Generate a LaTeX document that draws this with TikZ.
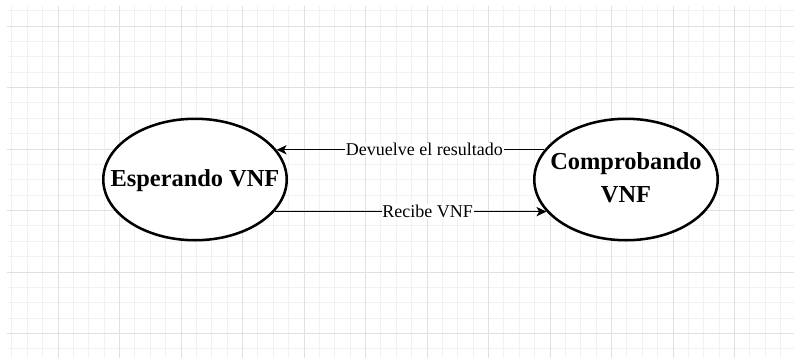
\documentclass[tikz,border=0pt]{standalone}
\usepackage{fontspec}
\setmainfont{Liberation Serif}
\usetikzlibrary{shapes.geometric,arrows.meta}
\definecolor{gridminor}{RGB}{241,241,241}
\definecolor{gridmajor}{RGB}{224,224,224}
% centred text of zero width, so the ellipse keeps its own size
\newcommand{\statetext}[1]{\makebox[0pt]{\begin{tabular}{@{}c@{}}#1\end{tabular}}}
\begin{document}
\begin{tikzpicture}[x=0.75pt,y=-0.75pt,
  minorline/.style={draw=gridminor,line width=0.75pt},
  majorline/.style={draw=gridmajor,line width=0.75pt},
  state/.style={ellipse,draw,line width=1.9pt,fill=white,
    minimum width=137.6pt,minimum height=91.1pt,inner sep=0pt,
    font=\fontsize{18.3}{24.75}\selectfont\bfseries},
  conn/.style={line width=1.05pt,-{Stealth[length=7.5pt,width=7pt,inset=2pt]}},
  lbl/.style={fill=white,inner sep=0.6pt,font=\fontsize{13.5}{16}\selectfont}]
% page and background grid
\useasboundingbox (0,0) rectangle (794,358);
\fill[white] (0,0) rectangle (794,358);
\begin{scope}
  \clip (7,6) rectangle (794,358);
  \foreach \k in {-3,...,48}
    \draw[minorline] ({58+15.375*\k},6) -- ({58+15.375*\k},358);
  \foreach \k in {-1,...,21}
    \draw[minorline] (7,{26+15.375*\k}) -- (794,{26+15.375*\k});
  \foreach \k in {0,...,12}
    \draw[majorline] ({58+61.5*\k},6) -- ({58+61.5*\k},358);
  \foreach \k in {0,...,5}
    \draw[majorline] (7,{26+61.5*\k}) -- (794,{26+61.5*\k});
\end{scope}
% states
\node[state] (L) at (195,179.5) {\statetext{Esperando VNF}};
\node[state] (R) at (626,179.5) {\statetext{Comprobando\\VNF}};
% transitions
\draw[conn] (R.160) -- node[lbl,pos=0.448] {Devuelve el resultado} (L.20);
\draw[conn] (L.-22) -- node[lbl,pos=0.563] {Recibe VNF} (R.-158);
\end{tikzpicture}
\end{document}
